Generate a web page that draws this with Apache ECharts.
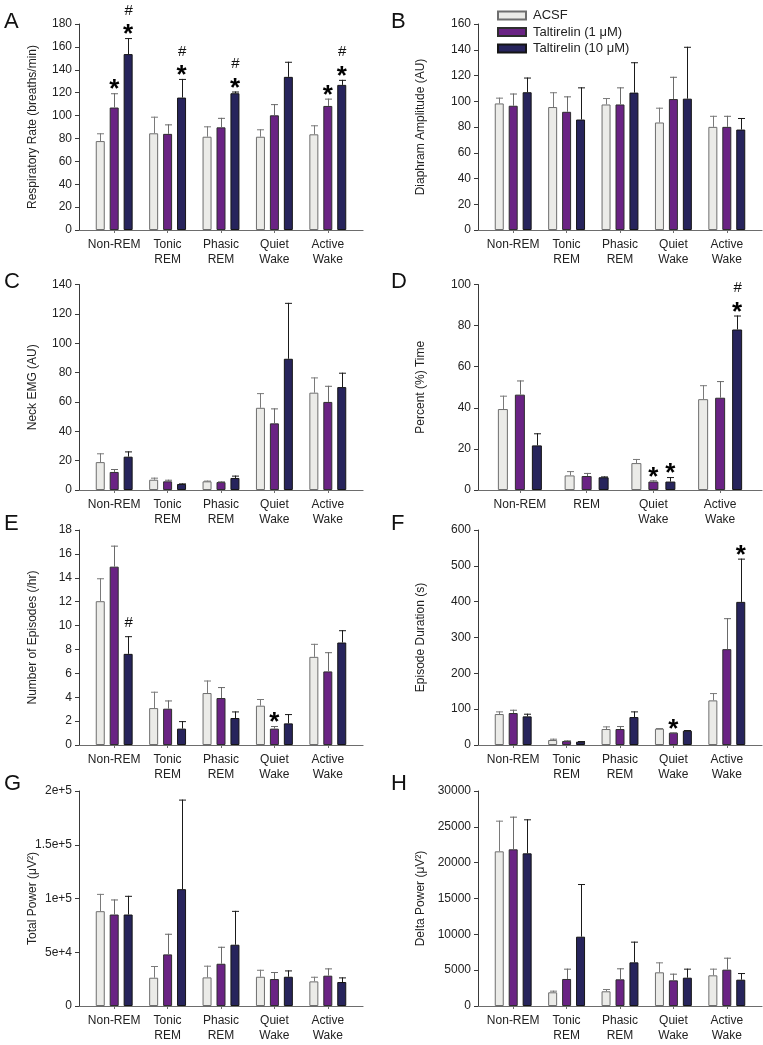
<!DOCTYPE html>
<html>
<head>
<meta charset="utf-8">
<script src="https://cdn.jsdelivr.net/npm/echarts@6/dist/echarts.min.js"></script>
<style>
html,body{margin:0;padding:0;background:#fff;}
#chart{width:763px;height:1045px;}
</style>
</head>
<body>
<div id="chart"></div>
<script>
// ---------- categories / names ----------
const seriesNames = ['ACSF', 'Taltirelin (1 μM)', 'Taltirelin (10 μM)'];
const cats5 = ['Non-REM', 'Tonic\nREM', 'Phasic\nREM', 'Quiet\nWake', 'Active\nWake'];
const cats4 = ['Non-REM', 'REM', 'Quiet\nWake', 'Active\nWake'];

// ---------- A: Respiratory rate ----------
const respMean = [[77.7, 84.5, 81.5, 81.5, 83.6], [107, 84, 89.7, 100.2, 108.4], [153.7, 115.7, 119.5, 133.8, 126.8]];
const respSem  = [[6.8, 14.5, 9.1, 6.5, 7.9], [12.5, 8.3, 8.3, 9.8, 6.4], [14, 16.3, 1.5, 13.2, 4.4]];
const respMarks = [[0, 1, '*'], [0, 2, '*#'], [1, 2, '*#'], [2, 2, '*#'], [4, 1, '*'], [4, 2, '*#']];

// ---------- B: Diaphragm amplitude ----------
const diaMean = [[98.3, 95.5, 97.5, 83.5, 80.1], [96.5, 91.8, 97.5, 101.7, 80.1], [107, 85.8, 106.7, 102, 78]];
const diaSem  = [[4.5, 11.5, 5, 11.5, 8.6], [9.5, 12, 13.3, 17.3, 8.6], [11.4, 25, 23.6, 40.3, 9]];

// ---------- C: Neck EMG ----------
const emgMean = [[19, 7, 5.9, 56, 66.3], [12.3, 5.9, 5.4, 45.4, 60], [22.7, 4.1, 8.2, 89.4, 70.1]];
const emgSem  = [[6, 1.4, 0.5, 10, 10.4], [2, 1.1, 0.5, 10.2, 11], [3.6, 0.4, 1.6, 38.1, 9.8]];

// ---------- D: Percent time ----------
const pctMean = [[39.4, 7.1, 13.1, 44.2], [46.4, 6.8, 4.1, 44.9], [21.7, 6.2, 4.1, 78.1]];
const pctSem  = [[6.5, 2.1, 2, 6.8], [6.9, 1.5, 0.6, 8.1], [5.9, 0.4, 2.2, 6.8]];
const pctMarks = [[2, 1, '*'], [2, 2, '*'], [3, 2, '*#']];

// ---------- E: Number of episodes ----------
const epiMean = [[12.04, 3.09, 4.35, 3.29, 7.38], [14.93, 3.04, 3.93, 1.37, 6.16], [7.63, 1.37, 2.26, 1.81, 8.58]];
const epiSem  = [[1.92, 1.37, 1.05, 0.56, 1.09], [1.76, 0.69, 0.92, 0.22, 1.61], [1.48, 0.63, 0.55, 0.78, 1.03]];
const epiMarks = [[0, 2, '#'], [3, 1, '*']];

// ---------- F: Episode duration ----------
const durMean = [[86.4, 13.9, 44.6, 45.5, 124.5], [89.2, 11.1, 44.6, 34.4, 267.5], [79.9, 9.3, 78, 39.9, 399.4]];
const durSem  = [[7.4, 3.7, 7.4, 1.9, 20.4], [9.2, 1.9, 8.3, 0.9, 86.4], [7.4, 1.8, 15.8, 1.9, 120.7]];
const durMarks = [[3, 1, '*'], [4, 2, '*']];

// ---------- G: Total power ----------
const totMean = [[88200, 26300, 26600, 27200, 22900], [85100, 48000, 39300, 25100, 28200], [85100, 108700, 57000, 27200, 22300]];
const totSem  = [[16100, 10900, 10900, 6500, 4300], [14000, 19200, 15800, 6500, 6800], [17400, 83300, 31500, 5900, 4300]];

// ---------- H: Delta power ----------
const delMean = [[21580, 1910, 2050, 4700, 4280], [21860, 3770, 3720, 3580, 5070], [21300, 9670, 6090, 3950, 3670]];
const delSem  = [[4280, 230, 320, 1390, 930], [4560, 1440, 1540, 930, 1670], [4750, 7350, 2890, 1260, 930]];

// ---------- styling ----------
const FONT = "'Liberation Sans', Arial, Helvetica, sans-serif";
const fills = ['#ebebe8', '#6a2384', '#27245c'];
const borders = ['#6e6e6e', '#2e2e2e', '#151515'];
const errColors = ['#7a7a7a', '#6a6a6a', '#1a1a1a'];
const axisColor = '#3a3a3a';

function sciFmt(v) {
  if (v === 0) return '0';
  const e = Math.floor(Math.log10(v));
  const m = +(v / Math.pow(10, e)).toFixed(2);
  return m + 'e+' + e;
}
function plainFmt(v) { return String(v); }

const panels = [
  {letter: 'A', col: 0, row: 0, cats: cats5, mean: respMean, sem: respSem, marks: respMarks, max: 180, interval: 20, name: 'Respiratory Rate (breaths/min)'},
  {letter: 'B', col: 1, row: 0, cats: cats5, mean: diaMean, sem: diaSem, marks: [], max: 160, interval: 20, name: 'Diaphram Amplitude (AU)'},
  {letter: 'C', col: 0, row: 1, cats: cats5, mean: emgMean, sem: emgSem, marks: [], max: 140, interval: 20, name: 'Neck EMG (AU)'},
  {letter: 'D', col: 1, row: 1, cats: cats4, mean: pctMean, sem: pctSem, marks: pctMarks, max: 100, interval: 20, name: 'Percent (%) Time'},
  {letter: 'E', col: 0, row: 2, cats: cats5, mean: epiMean, sem: epiSem, marks: epiMarks, max: 18, interval: 2, name: 'Number of Episodes (/hr)'},
  {letter: 'F', col: 1, row: 2, cats: cats5, mean: durMean, sem: durSem, marks: durMarks, max: 600, interval: 100, name: 'Episode Duration (s)'},
  {letter: 'G', col: 0, row: 3, cats: cats5, mean: totMean, sem: totSem, marks: [], max: 200000, interval: 50000, name: 'Total Power (μV²)', fmt: sciFmt},
  {letter: 'H', col: 1, row: 3, cats: cats5, mean: delMean, sem: delSem, marks: [], max: 30000, interval: 5000, name: 'Delta Power (μV²)'}
];

const colX = [79, 478];
const rowTop = [24, 284.5, 530, 791];
const rowH = [206, 205.5, 215, 215];
const letterTop = [11, 271, 513, 773];
const AXW = 284, PAD = 8.5, INW = 267;

const grid = [], xAxis = [], yAxis = [], series = [], graphic = [];

panels.forEach((p, pi) => {
  const x0 = colX[p.col], top = rowTop[p.row], h = rowH[p.row];
  const n = p.cats.length;
  const bw = n === 5 ? 9 : 10;
  const gapR = n === 5 ? 0.55 : 0.7;
  const step = bw * (1 + gapR);
  const outer = pi * 2, inner = pi * 2 + 1;

  grid.push({left: x0, top: top, width: AXW, height: h});
  grid.push({left: x0 + PAD, top: top, width: INW, height: h});

  // outer: axis lines + y labels
  xAxis.push({gridIndex: outer, type: 'value', min: 0, max: 1,
    axisLine: {show: true, onZero: false, lineStyle: {color: '#6d6d6d', width: 1.2}},
    axisTick: {show: false}, axisLabel: {show: false}, splitLine: {show: false}});
  yAxis.push({gridIndex: outer, type: 'value', min: 0, max: p.max, interval: p.interval,
    name: p.name, nameLocation: 'middle', nameGap: p.col === 0 ? 40 : 51, nameMoveOverlap: false,
    nameTextStyle: {fontFamily: FONT, fontSize: 12, color: '#222'},
    axisLine: {show: true, lineStyle: {color: axisColor, width: 1}},
    axisTick: {show: true, length: 4, lineStyle: {color: axisColor}},
    axisLabel: {fontFamily: FONT, fontSize: 12, color: '#222', margin: 7, formatter: p.fmt || plainFmt},
    splitLine: {show: false}});

  // inner: category axis for bars
  xAxis.push({gridIndex: inner, type: 'category', data: p.cats,
    axisLine: {show: false},
    axisTick: {show: true, alignWithLabel: true, length: 3, lineStyle: {color: '#6d6d6d'}},
    axisLabel: {fontFamily: FONT, fontSize: 12, color: '#222', lineHeight: 15, margin: 7, interval: 0},
    splitLine: {show: false}});
  yAxis.push({gridIndex: inner, type: 'value', min: 0, max: p.max, interval: p.interval, show: false, splitLine: {show: false}});

  for (let s = 0; s < 3; s++) {
    series.push({
      type: 'bar', name: seriesNames[s], xAxisIndex: inner, yAxisIndex: inner,
      data: p.mean[s], barWidth: bw, barGap: (gapR * 100) + '%',
      itemStyle: {color: fills[s], borderColor: borders[s], borderWidth: 1},
      emphasis: {disabled: true}, z: 2
    });
  }
  // error bars
  for (let s = 0; s < 3; s++) {
    const off = (s - 1) * step;
    series.push({
      type: 'custom', xAxisIndex: inner, yAxisIndex: inner, z: 3, silent: true,
      data: p.mean[s].map((m, i) => [i, m, p.sem[s][i]]),
      renderItem: function (params, api) {
        const i = api.value(0), m = api.value(1), e = api.value(2);
        const b = api.coord([i, m]);
        const t = api.coord([i, m + e]);
        const x = Math.round(b[0] + off) + 0.5;
        const style = {stroke: errColors[s], lineWidth: 1, fill: null};
        return {type: 'group', children: [
          {type: 'line', shape: {x1: x, y1: b[1], x2: x, y2: t[1]}, style: style},
          {type: 'line', shape: {x1: x - 3.5, y1: t[1] + 0.5, x2: x + 3.5, y2: t[1] + 0.5}, style: style}
        ]};
      }
    });
  }
  // significance marks
  if (p.marks.length) {
    series.push({
      type: 'custom', xAxisIndex: inner, yAxisIndex: inner, z: 4, silent: true,
      data: p.marks.map(mk => [mk[0], mk[1], p.mean[mk[1]][mk[0]] + p.sem[mk[1]][mk[0]]]),
      renderItem: function (params, api) {
        const mk = p.marks[params.dataIndex];
        const i = api.value(0), s = api.value(1), topv = api.value(2);
        const c = api.coord([i, topv]);
        const x = c[0] + (s - 1) * step;
        const kids = [];
        const txt = mk[2];
        const hasStar = txt.indexOf('*') >= 0;
        if (hasStar) {
          kids.push({type: 'text', style: {text: '*', x: x, y: c[1] + 10, fontFamily: FONT, fontSize: 26, fontWeight: 'bold', fill: '#000', align: 'center', verticalAlign: 'bottom'}});
        }
        if (txt.indexOf('#') >= 0) {
          kids.push({type: 'text', style: {text: '#', x: x + 0.5, y: c[1] - (hasStar ? 20 : 6), fontFamily: FONT, fontSize: 15, fill: '#111', align: 'center', verticalAlign: 'bottom'}});
        }
        return {type: 'group', children: kids};
      }
    });
  }

  graphic.push({type: 'text', left: p.col === 0 ? 4 : 391, top: letterTop[p.row],
    style: {text: p.letter, fontFamily: FONT, fontSize: 22, fill: '#111'}});
});

const chart = echarts.init(document.getElementById('chart'), null, {renderer: 'canvas'});
chart.setOption({
  animation: false,
  backgroundColor: '#ffffff',
  textStyle: {fontFamily: FONT},
  legend: {
    data: seriesNames, orient: 'vertical', left: 497, top: 9, padding: 0,
    icon: 'rect', itemWidth: 28, itemHeight: 8, itemGap: 3.5,
    textStyle: {fontFamily: FONT, fontSize: 13, color: '#222', padding: [0, 0, 0, 2]},
    selectedMode: false
  },
  grid: grid, xAxis: xAxis, yAxis: yAxis, series: series, graphic: graphic
});
</script>
</body>
</html>
